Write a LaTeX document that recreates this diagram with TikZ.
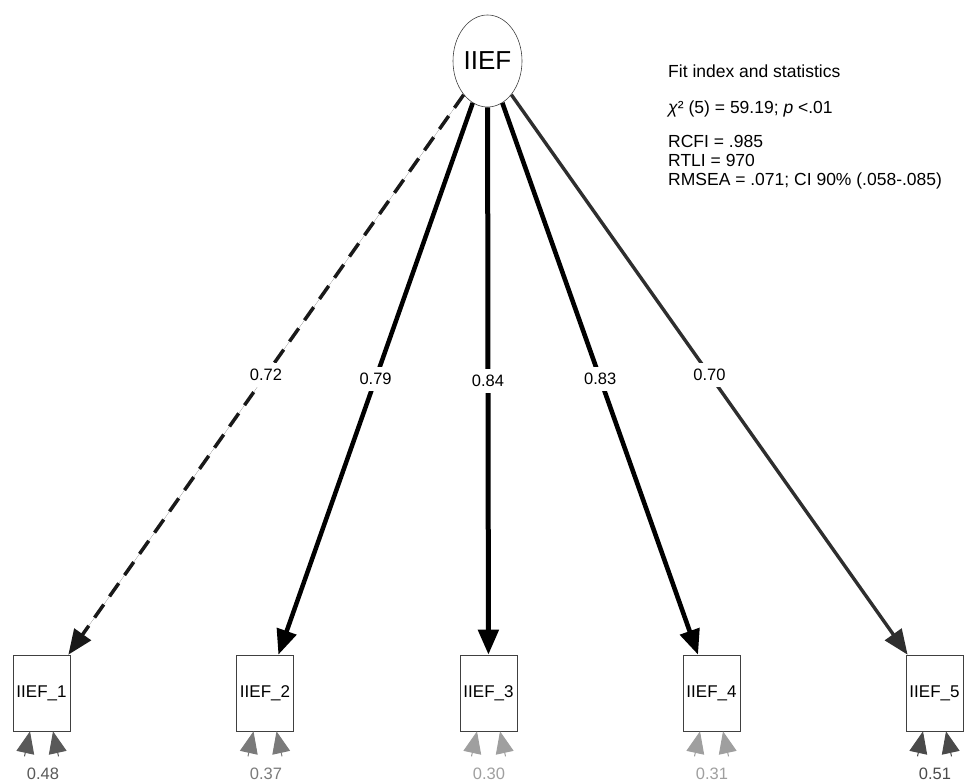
\documentclass[tikz,border=0pt]{standalone}
\usepackage{fontspec}
\setmainfont{Liberation Sans}
\usetikzlibrary{arrows.meta,calc,shapes.geometric}

\definecolor{res1}{HTML}{595959}
\definecolor{res2}{HTML}{7A7A7A}
\definecolor{res3}{HTML}{9F9F9F}
\definecolor{res5}{HTML}{4A4A4A}

\tikzset{
  latent/.style={ellipse,draw=black!75,line width=0.6pt,minimum width=69pt,minimum height=92pt,inner sep=0pt,font=\fontsize{26}{30}\selectfont},
  manifest/.style={rectangle,draw=black!75,line width=0.6pt,minimum width=57pt,minimum height=76pt,inner sep=0pt,font=\fontsize{17}{20}\selectfont},
  loading/.style={-{Triangle[length=25pt,width=20pt]}},
  lbl/.style={fill=white,inner sep=6pt,font=\fontsize{16.5}{19}\selectfont},
  resid/.style={-{Triangle[length=22pt,width=18pt]},line width=1pt,draw=#1,fill=#1},
  varlbl/.style={text=#1,inner sep=0pt,font=\fontsize{16.5}{19}\selectfont},
  fitline/.style={anchor=base west,inner sep=0pt,font=\fontsize{17.5}{20}\selectfont}
}

\begin{document}
\begin{tikzpicture}[x=1pt,y=-1pt]
   \useasboundingbox (0,0) rectangle (973,783);

   \node[latent] (iief) at (487.5,61) {IIEF};

   \node[manifest] (i1) at (41.5,693)  {IIEF\_1};
   \node[manifest] (i2) at (265,693)   {IIEF\_2};
   \node[manifest] (i3) at (488.5,693) {IIEF\_3};
   \node[manifest] (i4) at (711.5,693) {IIEF\_4};
   \node[manifest] (i5) at (934.5,693) {IIEF\_5};

   % loadings
   \draw[loading,line width=3.5pt,draw=black!90,fill=black!90,dash pattern=on 16pt off 10pt] (iief) -- node[lbl] {0.72} (i1);
   \draw[loading,line width=4.5pt] (iief) -- node[lbl] {0.79} (i2);
   \draw[loading,line width=5pt] (iief) -- node[lbl] {0.84} (i3);
   \draw[loading,line width=4.6pt] (iief) -- node[lbl] {0.83} (i4);
   \draw[loading,line width=3.4pt,draw=black!82,fill=black!82] (iief) -- node[lbl] {0.70} (i5);

   % residual variances
   \draw[resid=res1] ($(i1.south)+(-17,25)$) -- ($(i1.south)+(-11.5,0)$);
   \draw[resid=res1] ($(i1.south)+(17,25)$) -- ($(i1.south)+(11.5,0)$);
   \draw[resid=res2] ($(i2.south)+(-17,25)$) -- ($(i2.south)+(-11.5,0)$);
   \draw[resid=res2] ($(i2.south)+(17,25)$) -- ($(i2.south)+(11.5,0)$);
   \draw[resid=res3] ($(i3.south)+(-17,25)$) -- ($(i3.south)+(-11.5,0)$);
   \draw[resid=res3] ($(i3.south)+(17,25)$) -- ($(i3.south)+(11.5,0)$);
   \draw[resid=res3] ($(i4.south)+(-17,25)$) -- ($(i4.south)+(-11.5,0)$);
   \draw[resid=res3] ($(i4.south)+(17,25)$) -- ($(i4.south)+(11.5,0)$);
   \draw[resid=res5] ($(i5.south)+(-17,25)$) -- ($(i5.south)+(-11.5,0)$);
   \draw[resid=res5] ($(i5.south)+(17,25)$) -- ($(i5.south)+(11.5,0)$);

   \node[varlbl=res1] (v1) at (43,774)  {0.48};
   \node[varlbl=res2] (v2) at (266,774) {0.37};
   \node[varlbl=res3] (v3) at (489,774) {0.30};
   \node[varlbl=res3] (v4) at (712,774) {0.31};
   \node[varlbl=res5] (v5) at (935,774) {0.51};

   % fit statistics
   \node[fitline] (fit0) at (668,78)  {Fit index and statistics};
   \node[fitline] (fit1) at (668,114) {\textit{χ}² (5) = 59.19; \textit{p} <.01};
   \node[fitline] (fit2) at (668,148) {RCFI = .985};
   \node[fitline] (fit3) at (668,167) {RTLI = 970};
   \node[fitline] (fit4) at (668,186) {RMSEA = .071; CI 90\% (.058-.085)};
\end{tikzpicture}
\end{document}
